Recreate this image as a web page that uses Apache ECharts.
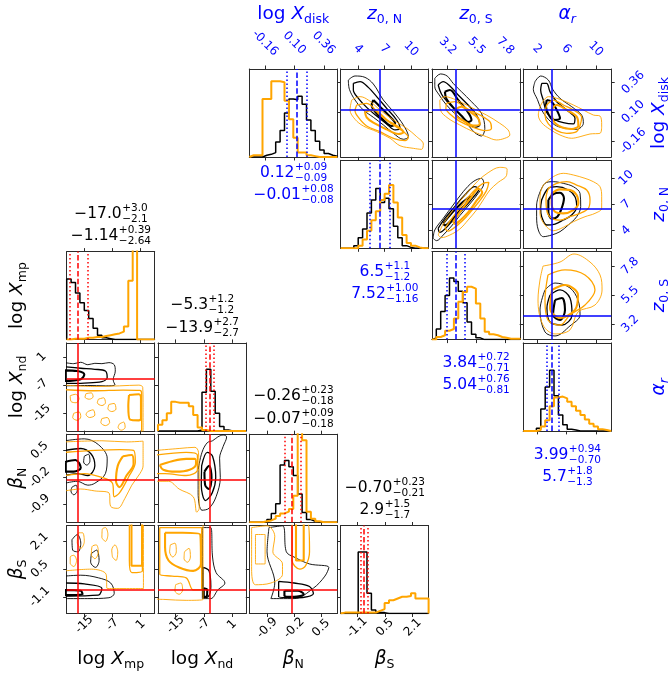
<!DOCTYPE html>
<html>
<head>
<meta charset="utf-8">
<title>corner plot</title>
<script src="https://cdn.jsdelivr.net/npm/echarts@6.0.0/dist/echarts.min.js"></script>
<style>
  html, body { margin: 0; padding: 0; background: #fff; }
  #chart { width: 668px; height: 675px; }
</style>
</head>
<body>
<div id="chart"></div>
<script>
// ---------- values ----------
const diskTicks = [-0.16, 0.10, 0.36];
const diskTickLabels = ['-0.16', '0.10', '0.36'];
const z0NTicks = [4, 7, 10];
const z0NTickLabels = ['4', '7', '10'];
const z0STicks = [3.2, 5.5, 7.8];
const z0STickLabels = ['3.2', '5.5', '7.8'];
const alphaTicks = [2, 6, 10];
const alphaTickLabels = ['2', '6', '10'];
const mpTicks = [-15, -7, 1];
const mpTickLabels = ['-15', '-7', '1'];
const ndTicks = [-15, -7, 1];
const ndTickLabels = ['-15', '-7', '1'];
const betaNTicks = [-0.9, -0.2, 0.5];
const betaNTickLabels = ['-0.9', '-0.2', '0.5'];
const betaSTicks = [-1.1, 0.5, 2.1];
const betaSTickLabels = ['-1.1', '0.5', '2.1'];

// median, +err, -err : black run (first line) and orange run (second line)
const blueMedBlack = [0.12, 6.5, 3.84, 3.99];
const bluePlusBlack = [0.09, 1.1, 0.72, 0.94];
const blueMinusBlack = [0.09, 1.2, 0.71, 0.70];
const blueDigitsBlack = [2, 1, 2, 2];
const blueMedOrange = [-0.01, 7.52, 5.04, 5.7];
const bluePlusOrange = [0.08, 1.00, 0.76, 1.8];
const blueMinusOrange = [0.08, 1.16, 0.81, 1.3];
const blueDigitsOrange = [2, 2, 2, 1];

const redMedBlack = [-17.0, -5.3, -0.26, -0.70];
const redPlusBlack = [3.0, 1.2, 0.23, 0.23];
const redMinusBlack = [2.1, 1.2, 0.18, 0.21];
const redDigitsBlack = [1, 1, 2, 2];
const redMedOrange = [-1.14, -13.9, -0.07, 2.9];
const redPlusOrange = [0.39, 2.7, 0.09, 1.5];
const redMinusOrange = [2.64, 2.7, 0.18, 1.7];
const redDigitsOrange = [2, 1, 2, 1];

const blueTruth = [0.12, 6.5, 3.84, 3.99];
const redTruth = [-17.0, -5.3, -0.26, -0.70];

// 1-d histograms, 20 bins over each axis range
const histDiskBlack = [0, 0, 0, 0.02, 0.03, 0.05, 0.17, 0.30, 0.50, 0.66, 0.65, 0.69, 0.60, 0.42, 0.30, 0.18, 0.08, 0.04, 0.02, 0.01];
const histDiskOrange = [0.02, 0.02, 0.02, 0.66, 0.66, 0.86, 0.86, 0.85, 0.64, 0.43, 0.22, 0.05, 0.05, 0.02, 0.01, 0, 0, 0, 0, 0];
const histZ0NBlack = [0, 0, 0, 0.03, 0.12, 0.22, 0.40, 0.55, 0.68, 0.52, 0.57, 0.45, 0.25, 0.12, 0.03, 0.01, 0, 0, 0, 0];
const histZ0NOrange = [0, 0, 0, 0, 0.03, 0.10, 0.20, 0.32, 0.42, 0.55, 0.62, 0.72, 0.52, 0.35, 0.15, 0.06, 0.03, 0.01, 0, 0];
const histZ0SBlack = [0.02, 0.12, 0.32, 0.50, 0.70, 0.66, 0.55, 0.42, 0.20, 0.06, 0.02, 0, 0, 0, 0, 0, 0, 0, 0, 0];
const histZ0SOrange = [0, 0.03, 0.05, 0.10, 0.12, 0.24, 0.43, 0.54, 0.60, 0.58, 0.41, 0.24, 0.09, 0.06, 0.05, 0.03, 0.02, 0.01, 0.01, 0.01];
const histAlphaBlack = [0, 0, 0, 0.03, 0.25, 0.50, 0.69, 0.40, 0.18, 0.07, 0.02, 0.01, 0, 0, 0, 0, 0, 0, 0, 0];
const histAlphaOrange = [0, 0, 0, 0.01, 0.05, 0.12, 0.28, 0.38, 0.39, 0.37, 0.33, 0.28, 0.23, 0.18, 0.13, 0.08, 0.05, 0.02, 0.01, 0];
const histMpBlack = [0.69, 0.65, 0.53, 0.42, 0.33, 0.24, 0.13, 0.05, 0.02, 0.01, 0, 0, 0, 0, 0, 0, 0, 0, 0, 0];
const histMpOrange = [0, 0.01, 0.01, 0.01, 0.02, 0.02, 0.03, 0.03, 0.04, 0.05, 0.06, 0.07, 0.09, 0.15, 0.67, 1.4, 0, 0, 0, 0];
const histNdBlack = [0, 0, 0, 0, 0, 0, 0, 0, 0, 0.01, 0.44, 0.70, 0.45, 0.20, 0.05, 0.01, 0, 0, 0, 0];
const histNdOrange = [0.07, 0.12, 0.20, 0.33, 0.32, 0.32, 0.32, 0.28, 0.18, 0.04, 0.01, 0, 0, 0, 0, 0, 0, 0, 0, 0];
const histBetaNBlack = [0, 0, 0, 0, 0.03, 0.10, 0.21, 0.65, 0.70, 0.63, 0.53, 0.32, 0.11, 0.03, 0.01, 0, 0, 0, 0, 0];
const histBetaNOrange = [0, 0, 0, 0.01, 0.02, 0.04, 0.07, 0.10, 0.12, 0.15, 0.30, 1.30, 0.93, 0.12, 0.04, 0.01, 0, 0, 0, 0];
const histBetaSBlack = [0, 0, 0, 0, 0.70, 0.70, 0.23, 0.04, 0.01, 0.01, 0, 0, 0, 0, 0, 0, 0, 0, 0, 0];
const histBetaSOrange = [0.01, 0.01, 0.01, 0.01, 0.01, 0.01, 0.01, 0.01, 0.03, 0.05, 0.12, 0.15, 0.17, 0.19, 0.19, 0.20, 0.23, 0.17, 0.17, 0.17];

// contour lines (outer, middle, inner), traced in data units
const ctrZ0NDiskBlack = [
  [[2.88, 0.382], [3.64, 0.418], [4.77, 0.406], [5.72, 0.347], [6.86, 0.205], [8.0, 0.102], [9.13, -0.016], [9.7, -0.12], [9.13, -0.143], [8.0, -0.09], [6.86, -0.016], [5.72, 0.052], [4.58, 0.117], [3.64, 0.205], [3.0, 0.30]],
  [[3.45, 0.353], [4.21, 0.368], [5.15, 0.317], [6.1, 0.235], [7.24, 0.131], [8.37, 0.028], [8.75, -0.046], [8.19, -0.06], [7.24, -0.007], [6.1, 0.063], [4.96, 0.14], [4.02, 0.22], [3.45, 0.294]],
  [[5.72, 0.205], [6.48, 0.146], [7.43, 0.072], [8.19, -0.002], [7.81, -0.025], [6.86, 0.028], [5.91, 0.102], [5.53, 0.161]]
];
const ctrZ0NDiskOrange = [
  [[3.26, 0.205], [4.21, 0.235], [5.15, 0.205], [6.48, 0.117], [8.0, 0.028], [9.51, -0.046], [10.65, -0.12], [11.4, -0.185], [11.2, -0.232], [10.27, -0.223], [8.75, -0.2], [7.62, -0.134], [6.1, -0.075], [4.58, -0.025], [3.64, 0.034], [3.07, 0.117]],
  [[3.83, 0.161], [4.96, 0.176], [6.48, 0.072], [8.0, -0.016], [9.13, -0.075], [9.7, -0.126], [9.32, -0.155], [8.0, -0.134], [6.48, -0.075], [4.96, -0.025], [4.02, 0.052], [3.64, 0.111]],
  [[4.77, 0.102], [5.72, 0.117], [7.24, 0.028], [8.75, -0.046], [9.13, -0.081], [8.56, -0.096], [7.24, -0.055], [5.72, 0.004], [4.96, 0.052]]
];
const ctrZ0SDiskBlack = [
  [[2.18, 0.397], [2.63, 0.436], [3.16, 0.418], [3.64, 0.353], [4.3, 0.279], [5.1, 0.19], [5.89, 0.087], [6.16, -0.046], [5.89, -0.114], [5.36, -0.084], [4.7, -0.001], [3.9, 0.072], [3.11, 0.161], [2.53, 0.25], [2.18, 0.323]],
  [[2.45, 0.338], [2.85, 0.368], [3.38, 0.329], [4.04, 0.25], [4.83, 0.161], [5.5, 0.072], [5.76, -0.016], [5.36, -0.037], [4.7, 0.022], [4.04, 0.093], [3.24, 0.182], [2.71, 0.258]],
  [[2.98, 0.279], [3.38, 0.294], [4.04, 0.205], [4.7, 0.117], [5.1, 0.028], [4.83, 0.01], [4.3, 0.066], [3.64, 0.14], [3.11, 0.214]]
];
const ctrZ0SDiskOrange = [
  [[2.58, 0.205], [2.98, 0.235], [3.9, 0.205], [4.96, 0.146], [6.29, 0.072], [7.35, -0.001], [8.01, -0.06], [8.15, -0.105], [7.75, -0.134], [7.09, -0.149], [6.29, -0.12], [5.23, -0.075], [4.17, -0.016], [3.24, 0.043], [2.63, 0.117]],
  [[3.11, 0.176], [3.77, 0.19], [4.7, 0.131], [5.76, 0.072], [6.56, 0.013], [6.69, -0.046], [6.16, -0.066], [5.23, -0.037], [4.17, 0.016], [3.38, 0.081], [3.06, 0.131]],
  [[3.77, 0.117], [4.3, 0.146], [4.96, 0.102], [5.63, 0.043], [5.76, -0.007], [5.23, -0.022], [4.44, 0.022], [3.9, 0.063]]
];
const ctrAlphaDiskBlack = [
  [[1.71, 0.368], [2.48, 0.418], [3.53, 0.382], [4.12, 0.3], [5.12, 0.22], [6.71, 0.146], [8.07, 0.072], [8.3, -0.001], [7.39, -0.055], [6.03, -0.046], [4.67, -0.025], [3.53, 0.034], [2.62, 0.117], [2.03, 0.211], [1.48, 0.3]],
  [[2.62, 0.353], [3.3, 0.353], [3.75, 0.279], [4.67, 0.19], [6.03, 0.117], [7.16, 0.043], [6.94, -0.007], [5.57, 0.004], [4.21, 0.037], [3.3, 0.096], [2.84, 0.205], [2.48, 0.294]],
  [[3.3, 0.205], [3.98, 0.19], [4.67, 0.117], [5.12, 0.043], [4.21, 0.028], [3.53, 0.081], [3.21, 0.146]]
];
const ctrAlphaDiskOrange = [
  [[2.39, 0.146], [3.53, 0.235], [5.12, 0.211], [6.94, 0.161], [8.3, 0.117], [9.66, 0.072], [10.57, 0.063], [10.8, -0.016], [10.57, -0.09], [9.21, -0.096], [7.85, -0.12], [6.71, -0.134], [5.12, -0.105], [3.75, -0.055], [2.62, 0.004], [2.16, 0.072]],
  [[3.3, 0.161], [4.21, 0.205], [5.57, 0.161], [6.94, 0.117], [8.07, 0.052], [7.85, -0.022], [7.39, -0.075], [6.03, -0.09], [4.67, -0.066], [3.53, -0.007], [3.07, 0.072]],
  [[3.98, 0.117], [4.67, 0.161], [6.03, 0.117], [7.39, 0.057], [7.62, -0.022], [6.71, -0.052], [5.34, -0.037], [4.21, 0.022]]
];
const ctrZ0SZ0NBlack = [
  [[2.05, 3.13], [2.18, 4.08], [2.85, 5.4], [3.64, 6.92], [4.44, 8.43], [5.23, 9.57], [5.89, 9.95], [6.08, 9.38], [5.63, 8.24], [4.96, 7.03], [4.17, 5.71], [3.51, 4.53], [2.85, 3.51], [2.32, 2.87]],
  [[2.45, 4.27], [2.98, 5.4], [3.77, 6.73], [4.57, 8.05], [5.36, 9.0], [5.68, 8.7], [5.23, 7.79], [4.44, 6.46], [3.64, 5.21], [2.98, 4.19], [2.58, 3.81]],
  [[2.85, 4.83], [3.51, 5.97], [4.3, 7.11], [5.02, 7.94], [4.75, 7.22], [4.04, 6.08], [3.38, 5.02], [2.98, 4.61]]
];
const ctrZ0SZ0NOrange = [
  [[2.45, 3.51], [2.85, 4.76], [3.64, 6.35], [4.7, 8.24], [5.63, 9.68], [6.42, 10.59], [7.35, 11.2], [7.93, 11.0], [7.88, 10.25], [7.22, 9.49], [6.56, 8.62], [6.03, 7.49], [5.5, 6.35], [4.83, 5.21], [4.17, 4.19], [3.38, 3.51], [2.71, 3.21]],
  [[2.98, 4.27], [3.64, 5.59], [4.44, 7.11], [5.23, 8.43], [6.03, 9.38], [6.48, 9.49], [6.29, 8.55], [5.76, 7.41], [5.1, 6.27], [4.44, 5.21], [3.77, 4.38], [3.24, 3.96]],
  [[3.64, 5.02], [4.17, 6.08], [4.96, 7.6], [5.68, 8.74], [5.95, 8.36], [5.5, 7.41], [4.83, 6.08], [4.17, 5.14], [3.77, 4.76]]
];
const ctrAlphaZ0NBlack = [
  [[2.16, 7.86], [3.07, 9.38], [4.21, 9.57], [5.57, 9.38], [6.94, 9.0], [7.85, 8.24], [7.94, 6.73], [7.39, 5.59], [6.25, 4.65], [5.12, 3.89], [3.98, 3.51], [2.84, 3.32], [2.16, 4.08], [1.93, 5.59], [1.93, 6.92]],
  [[2.62, 7.49], [3.53, 8.81], [4.67, 9.0], [6.25, 8.62], [7.16, 7.86], [7.39, 6.73], [6.71, 5.78], [5.57, 5.21], [4.44, 4.76], [3.3, 4.65], [2.62, 5.59], [2.48, 6.54]],
  [[3.53, 7.49], [4.21, 8.17], [5.12, 8.32], [5.66, 7.68], [5.34, 6.54], [4.76, 5.59], [3.98, 5.37], [3.53, 6.16]]
];
const ctrAlphaZ0NOrange = [
  [[2.84, 9.19], [4.21, 10.14], [5.57, 10.52], [6.94, 10.33], [8.53, 9.95], [9.66, 9.57], [10.57, 9.0], [10.8, 7.86], [10.8, 6.54], [9.89, 5.97], [8.53, 5.59], [6.94, 5.02], [5.57, 4.38], [4.21, 4.0], [3.07, 4.65], [2.39, 5.97], [2.39, 7.49], [2.48, 8.43]],
  [[3.53, 8.81], [4.67, 9.38], [6.03, 9.57], [7.39, 9.19], [8.76, 8.62], [9.21, 7.49], [8.98, 6.54], [7.85, 5.97], [6.48, 5.59], [5.12, 5.21], [3.98, 5.4], [3.3, 6.35], [3.21, 7.68]],
  [[3.98, 8.24], [5.12, 8.7], [6.48, 8.62], [7.39, 8.05], [7.62, 7.11], [6.94, 6.35], [5.57, 5.97], [4.44, 6.16], [3.98, 7.11]]
];
const ctrAlphaZ0SBlack = [
  [[3.07, 5.9], [4.44, 6.45], [6.48, 6.06], [7.57, 5.1], [7.85, 3.91], [6.48, 3.04], [4.44, 2.24], [3.07, 2.56], [2.39, 4.31]],
  [[3.76, 5.5], [5.12, 5.9], [6.48, 5.26], [6.76, 3.91], [5.39, 3.11], [3.76, 3.35], [3.34, 4.47]],
  [[4.44, 5.1], [5.39, 5.26], [5.8, 4.31], [5.12, 3.51], [4.17, 3.91]]
];
const ctrAlphaZ0SOrange = [
  [[2.8, 7.8], [5.12, 8.12], [7.03, 8.76], [9.21, 8.12], [10.58, 7.09], [10.85, 5.9], [9.89, 4.7], [7.57, 4.15], [6.48, 2.72], [4.44, 2.4], [2.8, 3.11], [2.12, 5.1], [2.39, 6.69]],
  [[3.48, 7.09], [5.8, 7.49], [8.53, 7.09], [9.89, 5.9], [8.53, 4.7], [6.48, 3.91], [5.12, 3.11], [3.48, 3.51], [3.07, 5.1]],
  [[4.03, 5.9], [5.8, 6.29], [7.57, 5.5], [7.16, 4.31], [5.12, 3.67], [3.76, 4.47]]
];

const ctrMpNdBlack = [
  [[-20.5, -0.6], [-18, -0.9], [-16, -0.5], [-14, -1.2], [-12, -0.8], [-10, -0.9], [-8, -0.6], [-6.5, -1.2], [-6.2, -3], [-6.8, -5.5], [-6.3, -6.9], [-9, -7.2], [-14, -7.1], [-20.5, -7.2]],
  [[-20.5, -1.8], [-16, -2.2], [-12, -2.5], [-9, -3.0], [-8.5, -4.8], [-10, -6.0], [-15, -6.4], [-20.5, -6.5]],
  [[-20.5, -2.8], [-17, -3.0], [-15, -4.0], [-16, -5.3], [-20.5, -5.8]]
];
const ctrMpNdOrange = [
  [[-20.5, -7.0], [-12, -7.4], [-5, -7.2], [0.5, -7.0], [1.6, -7.6], [1.7, -12], [1.7, -21], [-20.5, -21]],
  [[-20.5, -8.3], [-12, -8.6], [-4, -8.4], [0.8, -8.5], [1.3, -9.5], [1.3, -20.6], [-20.5, -20.6]],
  [[-2.3, -9.8], [0.5, -9.6], [1.1, -10.5], [1.1, -16.5], [0.5, -17], [-2, -16.8], [-2.5, -13]]
];
const blobMpNdOrange = [
  [[-19, -10], [-17.5, -9.6], [-16.5, -10.8], [-17.3, -12], [-18.8, -11.6]],
  [[-14.5, -9.4], [-13, -9.2], [-12.5, -10.3], [-13.6, -11], [-14.8, -10.4]],
  [[-11, -11], [-9.5, -10.6], [-9, -12], [-10, -12.8], [-11.3, -12]],
  [[-8, -12.5], [-6.5, -12.2], [-6, -13.8], [-7.2, -14.5], [-8.3, -13.7]],
  [[-18, -15], [-16.5, -14.6], [-16, -16], [-17, -17], [-18.3, -16.2]],
  [[-14, -14.5], [-12.5, -14], [-12, -15.5], [-13.5, -16.2], [-14.5, -15.3]],
  [[-10, -16.5], [-8.5, -16.2], [-7.8, -17.6], [-9, -18.5], [-10.3, -17.6]],
  [[-5, -18], [-3.8, -17.5], [-3.4, -19], [-4.5, -19.8], [-5.4, -19]]
];
const ctrMpBetaNBlack = [
  [[-20.5, 0.75], [-15, 0.8], [-11, 0.65], [-8.5, 0.3], [-9, -0.1], [-12, -0.35], [-14, -0.4], [-17, -0.3], [-20.5, -0.35]],
  [[-20.5, 0.5], [-16, 0.55], [-13, 0.4], [-12, 0.1], [-14, -0.15], [-17, -0.1], [-20.5, -0.15]],
  [[-20.5, 0.2], [-17.5, 0.25], [-16, 0.05], [-18, -0.05], [-20.5, -0.05]]
];
const ctrMpBetaNOrange = [
  [[-20.5, 0.72], [-10, 0.75], [-3, 0.72], [1.7, 0.74], [1.7, 0.1], [0.8, -0.1], [-1.5, -0.4], [-3.5, -0.75], [-5.5, -1.0], [-7.5, -0.95], [-8, -0.6], [-12, -0.55], [-16, -0.5], [-20.5, -0.55]],
  [[-20.5, 0.45], [-12, 0.5], [-5, 0.52], [-1, 0.5], [-0.5, 0.2], [-2.5, -0.2], [-5, -0.6], [-6.5, -0.7], [-7, -0.35], [-10, -0.2], [-15, -0.1], [-20.5, -0.15]],
  [[-4, 0.35], [-1.5, 0.38], [-1, 0.15], [-3, -0.15], [-5, -0.45], [-6, -0.3], [-5.5, 0.1]]
];
const blobMpBetaNBlack = [
  [[-15, 0.35], [-13.8, 0.4], [-13.4, 0.22], [-14.3, 0.12], [-15.2, 0.2]],
  [[-18.5, -0.45], [-17.3, -0.4], [-17, -0.55], [-18, -0.65], [-18.8, -0.55]]
];
const ctrNdBetaNBlack = [
  [[-8.6, 0.0], [-7.5, 0.45], [-6, 0.7], [-4.5, 0.75], [-3, 0.85], [-1.5, 0.9], [-0.5, 0.85], [-1.5, 0.6], [-2.5, 0.3], [-2.3, -0.2], [-3.5, -0.7], [-5.5, -1.0], [-7.5, -1.05], [-8.6, -0.6]],
  [[-7.6, 0.1], [-6, 0.45], [-4.5, 0.35], [-3.6, -0.2], [-4.6, -0.6], [-6.5, -0.8], [-7.7, -0.4]],
  [[-6.8, -0.05], [-5.5, 0.1], [-4.8, -0.2], [-5.5, -0.5], [-6.6, -0.4]]
];
const ctrNdBetaNOrange = [
  [[-20.5, 0.5], [-14, 0.55], [-9.5, 0.58], [-8.5, 0.45], [-8.3, -0.4], [-8.3, -1.0], [-9, -1.1], [-10, -0.7], [-14, -0.5], [-17, -0.3], [-20.5, -0.3]],
  [[-20.5, 0.38], [-12, 0.45], [-8.8, 0.38], [-8.8, 0.0], [-12, -0.15], [-18, -0.1], [-20.5, -0.1]],
  [[-19.5, 0.12], [-16, 0.22], [-12, 0.28], [-9.5, 0.28], [-9.2, 0.15], [-11, 0.0], [-15, -0.05], [-18.5, 0.0]]
];
const ctrMpBetaSBlack = [
  [[-20.5, 0.1], [-16, 0.15], [-11, 0.0], [-7.5, -0.3], [-6.5, -0.9], [-8, -1.15], [-14, -1.2], [-20.5, -1.2]],
  [[-20.5, -0.3], [-15, -0.35], [-10, -0.6], [-11, -1.0], [-20.5, -1.05]],
  [[-20.5, -0.7], [-16, -0.75], [-15.5, -0.95], [-20.5, -1.0]]
];
const blobMpBetaSBlack = [
  [[-18.5, 2.2], [-17, 2.5], [-16, 2.0], [-16.8, 1.5], [-18.3, 1.6]],
  [[-13, 1.4], [-11.5, 1.6], [-10.8, 1.0], [-11.8, 0.6], [-13.2, 0.9]]
];
const ctrMpBetaSOrange = [
  [[-20.5, 3.2], [1.8, 3.2], [1.8, -0.62], [-8.5, -0.62], [-8.8, 0.2], [-13, 0.5], [-20.5, 0.4]],
  [[-2.2, 3.2], [1.5, 3.2], [1.5, 0.4], [-1.5, 0.3], [-2.2, 1.0]],
  [[-1.6, 3.2], [1.4, 3.2], [1.4, 0.7], [-1.6, 0.7]]
];
const blobMpBetaSOrange = [
  [[-17, 2.0], [-16, 1.7], [-15, 2.1], [-15.5, 2.6], [-16.6, 2.6]],
  [[-13, 1.3], [-12, 1.1], [-11, 1.5], [-11.6, 1.9], [-12.8, 1.8]],
  [[-19, 0.8], [-18, 0.65], [-17.2, 1.0], [-18, 1.3], [-19, 1.2]],
  [[-10, 2.3], [-9, 2.1], [-8.3, 2.5], [-9, 2.9], [-9.9, 2.8]],
  [[-7, 1.2], [-6, 1.0], [-5.5, 1.5], [-6.3, 1.9], [-7.2, 1.6]]
];
const ctrNdBetaSBlack = [
  [[-7.4, -1.2], [-5, -1.2], [-3, -0.7], [-1, -0.3], [-3.5, 0.3], [-4.5, 1.2], [-5, 2.9], [-7.4, 2.9]],
  [[-7.2, -1.15], [-5.8, -1.1], [-5, -0.5], [-5.5, 0.4], [-7.2, 0.6]],
  [[-7, -1.1], [-6.2, -1.1], [-6, -0.7], [-7, -0.6]]
];
const ctrNdBetaSOrange = [
  [[-20.5, 3.2], [-7.2, 3.2], [-7.2, -1.25], [-12, -1.3], [-18, -1.25], [-20.5, -1.2]],
  [[-19.5, 2.9], [-7.6, 2.9], [-7.6, -0.7], [-10, -0.7], [-12, 0.0], [-16, 0.1], [-19.5, 0.2]],
  [[-18, 2.6], [-13, 2.6], [-8, 2.5], [-7.8, 0.8], [-10, 0.4], [-14, 0.6], [-17, 1.0], [-18, 1.8]]
];
const blobNdBetaSOrange = [
  [[-16.5, 1.9], [-15.2, 2.0], [-14.8, 1.5], [-15.8, 1.2], [-16.7, 1.5]],
  [[-12.5, 1.5], [-11.2, 1.7], [-10.8, 1.2], [-11.6, 0.9], [-12.6, 1.1]],
  [[-15, -0.4], [-13.5, -0.3], [-13, -0.7], [-14, -0.95], [-15.2, -0.75]]
];
const ctrBetaNBetaSBlack = [
  [[-0.85, 2.9], [-0.5, 3.0], [-0.4, 1.5], [-0.2, 1.2], [0.2, 0.8], [0.7, 0.6], [0.6, 0.1], [0.3, -0.6], [-0.2, -1.2], [-0.8, -1.2], [-0.7, -0.3], [-0.9, 1.5]],
  [[-0.6, -0.2], [-0.2, -0.3], [0.2, -0.5], [0.3, -0.9], [-0.1, -1.15], [-0.6, -1.1]],
  [[-0.45, -0.75], [-0.1, -0.75], [0.05, -0.95], [-0.2, -1.1], [-0.45, -1.05]]
];
const ctrBetaNBetaSOrange = [
  [[-1.3, 2.9], [-0.9, 3.0], [-0.7, 2.4], [-0.75, 1.5], [-0.5, 0.8], [-0.5, 0.2], [-0.8, -0.3], [-1.2, -0.4], [-1.3, 0.5]],
  [[-0.25, 3.2], [0.15, 3.2], [0.2, 1.5], [0.1, 0.7], [-0.05, 0.5], [-0.25, 1.0]],
  [[-0.15, 3.2], [0.05, 3.2], [0.05, 1.0], [-0.15, 1.0]]
];
const blobBetaNBetaSOrange = [
  [[-1.2, 2.5], [-0.95, 2.5], [-0.95, 0.8], [-1.2, 0.8]]
];

// ---------- layout and styling ----------
const FAMILY = '"DejaVu Sans"';
const BLUE = '#0000ff', RED = '#ff0000', ORANGE = '#ffa500', INK = '#000000', FRAME = '#2b2b2b';
const colLeft = [66.7, 158.0, 249.3, 340.6, 431.9, 523.2];
const rowTop = [69.0, 160.3, 251.6, 342.9, 434.2, 525.5];
const CELL = 88;
const LEVEL_W = [0.9, 1.3, 2.1];

const blueVars = [
  {min: -0.30, max: 0.48, ticks: diskTicks, labels: diskTickLabels, gapTop: 26, gapSide: 22},
  {min: 2, max: 12, ticks: z0NTicks, labels: z0NTickLabels, gapTop: 20, gapSide: 15},
  {min: 1.95, max: 8.95, ticks: z0STicks, labels: z0STickLabels, gapTop: 23, gapSide: 19},
  {min: 0.1, max: 12.1, ticks: alphaTicks, labels: alphaTickLabels, gapTop: 20, gapSide: 18}
];
const redVars = [
  {min: -20, max: 5, ticks: mpTicks, labels: mpTickLabels, gapBottom: 11, gapSide: 25},
  {min: -20, max: 5, ticks: ndTicks, labels: ndTickLabels, gapBottom: 11, gapSide: 25},
  {min: -1.36, max: 0.92, ticks: betaNTicks, labels: betaNTickLabels, gapBottom: 14.5, gapSide: 27},
  {min: -2.06, max: 3.02, ticks: betaSTicks, labels: betaSTickLabels, gapBottom: 14, gapSide: 27}
];
const HIST_Y = {min: 0, max: 1, ticks: null};

const blueHists = [[histDiskBlack, histDiskOrange], [histZ0NBlack, histZ0NOrange], [histZ0SBlack, histZ0SOrange], [histAlphaBlack, histAlphaOrange]];
const redHists = [[histMpBlack, histMpOrange], [histNdBlack, histNdOrange], [histBetaNBlack, histBetaNOrange], [histBetaSBlack, histBetaSOrange]];
// [black levels, orange levels, extra black islands, extra orange islands]
const blueContours = {
  '0-1': [ctrZ0NDiskBlack, ctrZ0NDiskOrange, [], []],
  '0-2': [ctrZ0SDiskBlack, ctrZ0SDiskOrange, [], []],
  '0-3': [ctrAlphaDiskBlack, ctrAlphaDiskOrange, [], []],
  '1-2': [ctrZ0SZ0NBlack, ctrZ0SZ0NOrange, [], []],
  '1-3': [ctrAlphaZ0NBlack, ctrAlphaZ0NOrange, [], []],
  '2-3': [ctrAlphaZ0SBlack, ctrAlphaZ0SOrange, [], []]
};
const redContours = {
  '1-0': [ctrMpNdBlack, ctrMpNdOrange, [], blobMpNdOrange],
  '2-0': [ctrMpBetaNBlack, ctrMpBetaNOrange, blobMpBetaNBlack, []],
  '2-1': [ctrNdBetaNBlack, ctrNdBetaNOrange, [], []],
  '3-0': [ctrMpBetaSBlack, ctrMpBetaSOrange, blobMpBetaSBlack, blobMpBetaSOrange],
  '3-1': [ctrNdBetaSBlack, ctrNdBetaSOrange, [], blobNdBetaSOrange],
  '3-2': [ctrBetaNBetaSBlack, ctrBetaNBetaSOrange, [], blobBetaNBetaSOrange]
};

const grids = [], xAxes = [], yAxes = [], series = [], graphics = [];

function fmtTick(v, val) {
  const i = v.ticks.findIndex(t => Math.abs(t - val) < 1e-9);
  return i >= 0 ? v.labels[i] : '';
}

function makeAxis(gi, pos, v, gap, color) {
  const ax = {
    type: 'value', gridIndex: gi, position: pos, min: v.min, max: v.max,
    axisLine: {show: true, onZero: false, lineStyle: {color: FRAME, width: 1}},
    axisTick: v.ticks ? {show: true, length: 3.5, customValues: v.ticks, lineStyle: {color: FRAME, width: 1}} : {show: false},
    splitLine: {show: false},
    axisLabel: {show: false}
  };
  if (gap) {
    ax.axisLabel = {
      show: true, customValues: v.ticks, formatter: val => fmtTick(v, val),
      rotate: 45, align: 'center', verticalAlign: 'middle', margin: gap,
      color: color, fontSize: 12, fontFamily: FAMILY
    };
  }
  return ax;
}

function panel(col, row, xv, yv, lab) {
  const gi = grids.length;
  grids.push({left: colLeft[col], top: rowTop[row], width: CELL, height: CELL});
  const xi = xAxes.length, yi = yAxes.length;
  xAxes.push(makeAxis(gi, 'bottom', xv, lab.bottom, lab.color));
  xAxes.push(makeAxis(gi, 'top', xv, lab.top, lab.color));
  yAxes.push(makeAxis(gi, 'left', yv, lab.left, lab.color));
  yAxes.push(makeAxis(gi, 'right', yv, lab.right, lab.color));
  return {xi, yi};
}

function stepHist(p, v, counts, color, width) {
  const n = counts.length;
  const edge = i => v.min + (v.max - v.min) * i / n;
  const data = [[edge(0), 0]];
  counts.forEach((c, i) => data.push([edge(i), c]));
  data.push([edge(n), 0]);
  series.push({type: 'line', xAxisIndex: p.xi, yAxisIndex: p.yi, data: data, step: 'end',
    symbol: 'none', silent: true, z: 2, lineStyle: {color: color, width: width}});
}

function contours(p, rings, color, widths) {
  rings.forEach((ring, k) => {
    series.push({type: 'line', xAxisIndex: p.xi, yAxisIndex: p.yi, data: ring.concat([ring[0]]),
      symbol: 'none', smooth: 0.35, silent: true, z: 2,
      lineStyle: {color: color, width: widths ? widths[k] : 0.9}});
  });
}

function refLines(p, items, z) {
  series.push({type: 'line', xAxisIndex: p.xi, yAxisIndex: p.yi, data: [], z: z, silent: true,
    markLine: {silent: true, symbol: ['none', 'none'], label: {show: false}, animation: false, data: items}});
}

function quantileLines(p, med, plus, minus, color) {
  const dot = [1.5, 2.5], dash = [5.5, 2.4];
  refLines(p, [
    {xAxis: med - minus, lineStyle: {color: color, width: 1.5, type: dot}},
    {xAxis: med, lineStyle: {color: color, width: 1.5, type: dash}},
    {xAxis: med + plus, lineStyle: {color: color, width: 1.5, type: dot}}
  ], 4);
}

function truthLines(p, tx, ty, color) {
  refLines(p, [
    {xAxis: tx, lineStyle: {color: color, width: 1.5, type: 'solid'}},
    {yAxis: ty, lineStyle: {color: color, width: 1.5, type: 'solid'}}
  ], 5);
}

function contourPanel(p, c) {
  contours(p, c[0], INK, LEVEL_W);
  contours(p, c[2], INK, null);
  contours(p, c[1], ORANGE, LEVEL_W);
  contours(p, c[3], ORANGE, null);
}

// ---- blue corner (upper triangle) ----
for (let i = 0; i < 4; i++) {
  for (let j = i; j < 4; j++) {
    const lab = {color: BLUE, top: i === 0 ? blueVars[j].gapTop : 0, right: (j === 3 && i < 3) ? blueVars[i].gapSide : 0};
    if (i === j) {
      const p = panel(j + 2, i, blueVars[j], HIST_Y, lab);
      stepHist(p, blueVars[j], blueHists[j][0], INK, 1.5);
      stepHist(p, blueVars[j], blueHists[j][1], ORANGE, 2);
      quantileLines(p, blueMedBlack[j], bluePlusBlack[j], blueMinusBlack[j], BLUE);
    } else {
      const p = panel(j + 2, i, blueVars[j], blueVars[i], lab);
      contourPanel(p, blueContours[i + '-' + j]);
      truthLines(p, blueTruth[j], blueTruth[i], BLUE);
    }
  }
}

// ---- red corner (lower triangle) ----
for (let i = 0; i < 4; i++) {
  for (let j = 0; j <= i; j++) {
    const lab = {color: INK, bottom: i === 3 ? redVars[j].gapBottom : 0, left: (j === 0 && i > 0) ? redVars[i].gapSide : 0};
    if (i === j) {
      const p = panel(j, i + 2, redVars[j], HIST_Y, lab);
      stepHist(p, redVars[j], redHists[j][0], INK, 1.5);
      stepHist(p, redVars[j], redHists[j][1], ORANGE, 2);
      quantileLines(p, redMedBlack[j], redPlusBlack[j], redMinusBlack[j], RED);
    } else {
      const p = panel(j, i + 2, redVars[j], redVars[i], lab);
      contourPanel(p, redContours[i + '-' + j]);
      truthLines(p, redTruth[j], redTruth[i], RED);
    }
  }
}

// ---------- text: axis names and summary values ----------
const mctx = document.createElement('canvas').getContext('2d');
function fontOf(size, italic) { return (italic ? 'italic ' : '') + size + 'px ' + FAMILY; }
function tw(text, font) { mctx.font = font; return mctx.measureText(text).width; }
function txt(x, base, text, size, italic, color) {
  return {type: 'text', x: x, y: base - 0.346 * size, silent: true,
    style: {text: text, font: fontOf(size, italic), fill: color,
      align: 'left', verticalAlign: 'middle', textAlign: 'left', textVerticalAlign: 'middle'}};
}
// frags: [text, size, italic, baseline shift]
function mathLabel(cx, cy, frags, color, rot) {
  let w = 0;
  const placed = frags.map(f => { const x = w; w += tw(f[0], fontOf(f[1], f[2])); return {f: f, x: x}; });
  return {type: 'group', x: cx, y: cy, rotation: rot, silent: true,
    children: placed.map(pp => txt(pp.x - w / 2, pp.f[3], pp.f[0], pp.f[1], pp.f[2], color))};
}
const M = 18.5, S = 12.5, D = 3.5;
const blueNames = [
  [['log ', M, false, 0], ['X', M, true, 0], ['disk', S, false, D]],
  [['z', M, true, 0], ['0, N', S, false, D]],
  [['z', M, true, 0], ['0, S', S, false, D]],
  [['α', M, true, 0], ['r', S, true, D]]
];
const redNames = [
  [['log ', M, false, 0], ['X', M, true, 0], ['mp', S, false, D]],
  [['log ', M, false, 0], ['X', M, true, 0], ['nd', S, false, D]],
  [['β', M, true, 0], ['N', S, false, D]],
  [['β', M, true, 0], ['S', S, false, D]]
];
for (let k = 0; k < 4; k++) {
  graphics.push(mathLabel(colLeft[k + 2] + CELL / 2, 20.5, blueNames[k], BLUE, 0));
  graphics.push(mathLabel(665.5, rowTop[k] + CELL / 2, blueNames[k], BLUE, Math.PI / 2));
  graphics.push(mathLabel(colLeft[k] + CELL / 2, 666, redNames[k], INK, 0));
  graphics.push(mathLabel(23.5, rowTop[k + 2] + CELL / 2, redNames[k], INK, Math.PI / 2));
}

function num(v, d) { return v.toFixed(d).replace('-', '\u2212'); }
function summary(cx, base, med, plus, minus, d, color) {
  const mainF = fontOf(15.5, false), scrF = fontOf(10.5, false);
  const sMed = num(med, d), sPlus = '+' + plus.toFixed(d), sMinus = '\u2212' + minus.toFixed(d);
  const wm = tw(sMed, mainF), ws = Math.max(tw(sPlus, scrF), tw(sMinus, scrF));
  const x0 = cx - (wm + ws) / 2;
  graphics.push(txt(x0, base, sMed, 15.5, false, color));
  graphics.push(txt(x0 + wm + 0.5, base - 7.5, sPlus, 10.5, false, color));
  graphics.push(txt(x0 + wm + 0.5, base + 3.5, sMinus, 10.5, false, color));
}
for (let k = 0; k < 4; k++) {
  const bx = colLeft[k + 2] + CELL / 2;
  const b1 = rowTop[k] + CELL + (k === 0 ? 21 : 29);
  summary(bx, b1, blueMedBlack[k], bluePlusBlack[k], blueMinusBlack[k], blueDigitsBlack[k], BLUE);
  summary(bx, b1 + 22, blueMedOrange[k], bluePlusOrange[k], blueMinusOrange[k], blueDigitsOrange[k], BLUE);
  const rx = colLeft[k] + CELL / 2;
  const r1 = rowTop[k + 2] - 32.5;
  summary(rx, r1, redMedBlack[k], redPlusBlack[k], redMinusBlack[k], redDigitsBlack[k], INK);
  summary(rx, r1 + 22.5, redMedOrange[k], redPlusOrange[k], redMinusOrange[k], redDigitsOrange[k], INK);
}

const chart = echarts.init(document.getElementById('chart'), null, {renderer: 'canvas'});
chart.setOption({
  animation: false,
  backgroundColor: '#ffffff',
  grid: grids,
  xAxis: xAxes,
  yAxis: yAxes,
  series: series,
  graphic: {elements: graphics}
});
</script>
</body>
</html>
